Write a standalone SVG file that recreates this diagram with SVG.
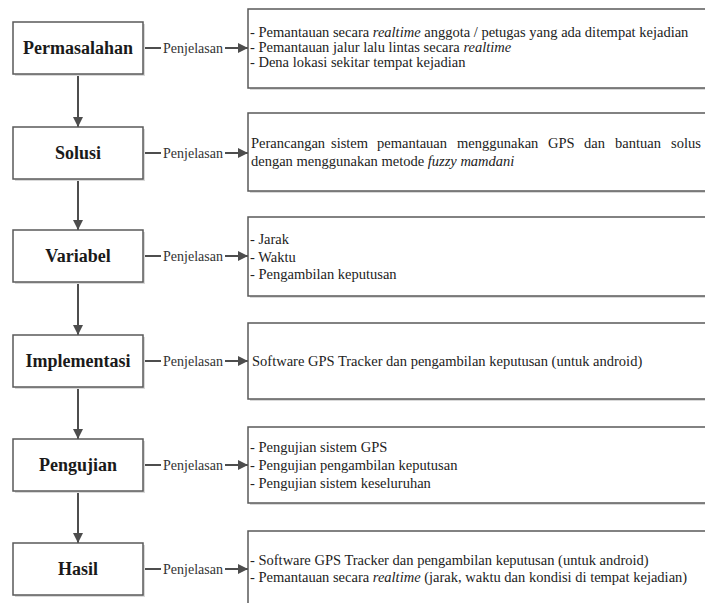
<svg xmlns="http://www.w3.org/2000/svg" width="705" height="603" viewBox="0 0 705 603">
<defs>
<style>
.nb{fill:#fff;stroke:#5a5a5a;stroke-width:1.5}
.sh{fill:#d9d9d9}
.lbl{font-family:"Liberation Serif",serif;font-weight:bold;font-size:18px;fill:#1a1a1a;text-anchor:middle}
.pj{font-family:"Liberation Serif",serif;font-size:14px;fill:#333;text-anchor:middle}
.tx{font-family:"Liberation Serif",serif;font-size:14.5px;fill:#222}
.it{font-style:italic}
.ln{stroke:#4d4d4d;stroke-width:2;fill:none}
</style>
<marker id="ah" viewBox="0 0 10 10" refX="10" refY="5" markerWidth="10" markerHeight="10" markerUnits="userSpaceOnUse" orient="auto">
<path d="M0,0 L10,5 L0,10 Z" fill="#4d4d4d"/>
</marker>
</defs>
<rect width="705" height="603" fill="#fff"/>

<g id="connectors">
<line class="ln" x1="78" y1="74" x2="78" y2="127" marker-end="url(#ah)"/>
<line class="ln" x1="78" y1="179" x2="78" y2="230" marker-end="url(#ah)"/>
<line class="ln" x1="78" y1="282" x2="78" y2="335" marker-end="url(#ah)"/>
<line class="ln" x1="78" y1="387" x2="78" y2="439" marker-end="url(#ah)"/>
<line class="ln" x1="78" y1="491" x2="78" y2="543" marker-end="url(#ah)"/>

<g id="pj1"><line class="ln" x1="143" y1="48" x2="161" y2="48"/><text class="pj" x="193" y="52.5">Penjelasan</text><line class="ln" x1="225" y1="48" x2="248" y2="48" marker-end="url(#ah)"/></g>
<g id="pj2"><line class="ln" x1="143" y1="153" x2="161" y2="153"/><text class="pj" x="193" y="157.5">Penjelasan</text><line class="ln" x1="225" y1="153" x2="248" y2="153" marker-end="url(#ah)"/></g>
<g id="pj3"><line class="ln" x1="143" y1="256" x2="161" y2="256"/><text class="pj" x="193" y="260.5">Penjelasan</text><line class="ln" x1="225" y1="256" x2="248" y2="256" marker-end="url(#ah)"/></g>
<g id="pj4"><line class="ln" x1="143" y1="361" x2="161" y2="361"/><text class="pj" x="193" y="365.5">Penjelasan</text><line class="ln" x1="225" y1="361" x2="248" y2="361" marker-end="url(#ah)"/></g>
<g id="pj5"><line class="ln" x1="143" y1="465" x2="161" y2="465"/><text class="pj" x="193" y="469.5">Penjelasan</text><line class="ln" x1="225" y1="465" x2="248" y2="465" marker-end="url(#ah)"/></g>
<g id="pj6"><line class="ln" x1="143" y1="569" x2="161" y2="569"/><text class="pj" x="193" y="573.5">Penjelasan</text><line class="ln" x1="225" y1="569" x2="248" y2="569" marker-end="url(#ah)"/></g>
</g>

<g id="n-permasalahan"><rect class="sh" x="15" y="24" width="130" height="52"/><rect class="nb" x="13" y="22" width="130" height="52"/><text class="lbl" x="78" y="54">Permasalahan</text></g>
<g id="n-solusi"><rect class="sh" x="15" y="129" width="130" height="52"/><rect class="nb" x="13" y="127" width="130" height="52"/><text class="lbl" x="78" y="159">Solusi</text></g>
<g id="n-variabel"><rect class="sh" x="15" y="232" width="130" height="52"/><rect class="nb" x="13" y="230" width="130" height="52"/><text class="lbl" x="78" y="262">Variabel</text></g>
<g id="n-implementasi"><rect class="sh" x="15" y="337" width="130" height="52"/><rect class="nb" x="13" y="335" width="130" height="52"/><text class="lbl" x="78" y="367">Implementasi</text></g>
<g id="n-pengujian"><rect class="sh" x="15" y="441" width="130" height="52"/><rect class="nb" x="13" y="439" width="130" height="52"/><text class="lbl" x="78" y="471">Pengujian</text></g>
<g id="n-hasil"><rect class="sh" x="15" y="545" width="130" height="52"/><rect class="nb" x="13" y="543" width="130" height="52"/><text class="lbl" x="78" y="575">Hasil</text></g>

<g id="d-permasalahan"><rect class="sh" x="250" y="11" width="480" height="79"/><rect class="nb" x="248" y="9" width="480" height="79"/>
<text class="tx" x="250" y="37">- Pemantauan secara <tspan class="it">realtime</tspan> anggota / petugas yang ada ditempat kejadian</text>
<text class="tx" x="250" y="52">- Pemantauan jalur lalu lintas  secara <tspan class="it">realtime</tspan></text>
<text class="tx" x="250" y="67">- Dena lokasi sekitar tempat kejadian</text></g>

<g id="d-solusi"><rect class="sh" x="250" y="115" width="480" height="78"/><rect class="nb" x="248" y="113" width="480" height="78"/>
<text class="tx" y="147.5"><tspan x="251">Perancangan</tspan><tspan x="331">sistem</tspan><tspan x="377">pemantauan</tspan><tspan x="457">menggunakan</tspan><tspan x="548">GPS</tspan><tspan x="584">dan</tspan><tspan x="615">bantuan</tspan><tspan x="671">solus</tspan></text>
<text class="tx" x="251" y="165.5">dengan menggunakan metode <tspan class="it">fuzzy mamdani</tspan></text></g>

<g id="d-variabel"><rect class="sh" x="250" y="219" width="480" height="79"/><rect class="nb" x="248" y="217" width="480" height="79"/>
<text class="tx" x="250" y="243.5">- Jarak</text>
<text class="tx" x="250" y="261.5">- Waktu</text>
<text class="tx" x="250" y="278.5">- Pengambilan keputusan</text></g>

<g id="d-implementasi"><rect class="sh" x="250" y="325" width="480" height="76"/><rect class="nb" x="248" y="323" width="480" height="76"/>
<text class="tx" x="252" y="365.5">Software GPS Tracker dan pengambilan keputusan (untuk android)</text></g>

<g id="d-pengujian"><rect class="sh" x="250" y="429" width="480" height="76"/><rect class="nb" x="248" y="427" width="480" height="76"/>
<text class="tx" x="250" y="451.5">- Pengujian sistem GPS</text>
<text class="tx" x="250" y="469.5">- Pengujian pengambilan keputusan</text>
<text class="tx" x="250" y="487.5">- Pengujian sistem keseluruhan</text></g>

<g id="d-hasil"><rect class="sh" x="250" y="533" width="480" height="90"/><rect class="nb" x="248" y="531" width="480" height="90"/>
<text class="tx" x="250" y="564.5">- Software GPS Tracker dan pengambilan keputusan (untuk android)</text>
<text class="tx" x="250" y="581.5">- Pemantauan secara <tspan class="it">realtime</tspan> (jarak, waktu dan kondisi di tempat kejadian)</text></g>
</svg>
